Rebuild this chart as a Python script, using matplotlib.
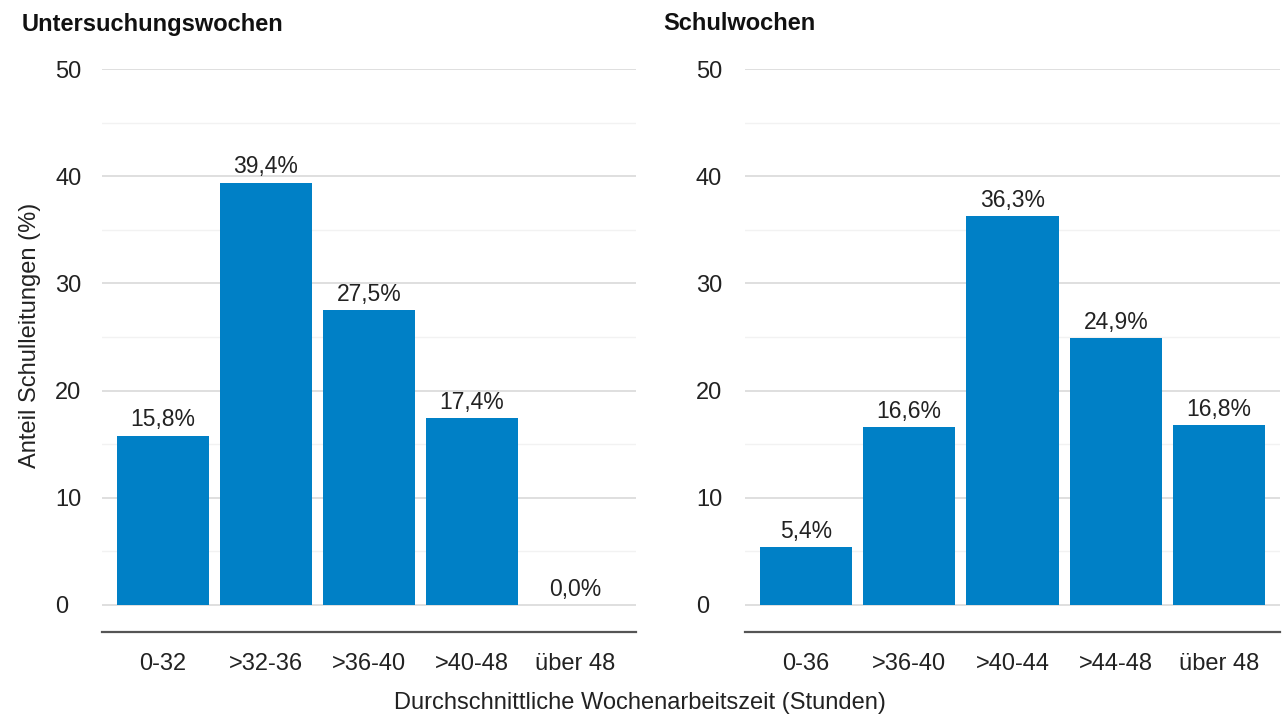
import matplotlib.pyplot as plt
from matplotlib.ticker import MultipleLocator

plt.rcParams['font.family'] = ['Liberation Sans', 'DejaVu Sans']

# --- data ---
cats_left = ["0-32", ">32-36", ">36-40", ">40-48", "über 48"]
vals_left = [15.8, 39.4, 27.5, 17.4, 0.0]
cats_right = ["0-36", ">36-40", ">40-44", ">44-48", "über 48"]
vals_right = [5.4, 16.6, 36.3, 24.9, 16.8]
titles = ["Untersuchungswochen", "Schulwochen"]

bar_color = "#0080c6"
text_color = "#222222"

fig = plt.figure(figsize=(12.82, 7.19), dpi=100)
ax_l = fig.add_axes([102 / 1282, 1 - 631.75 / 719, 534 / 1282, 562.75 / 719])
ax_r = fig.add_axes([745 / 1282, 1 - 631.75 / 719, 535 / 1282, 562.75 / 719])

for ax, cats, vals, pad_px in [(ax_l, cats_left, vals_left, 47),
                               (ax_r, cats_right, vals_right, 49)]:
    x = range(len(cats))
    bars = ax.bar(x, vals, width=0.893, color=bar_color, zorder=3)
    for b, v in zip(bars, vals):
        ax.annotate(f"{v:.1f}%".replace(".", ","), (b.get_x() + b.get_width() / 2, v),
                    xytext=(0, 3), textcoords="offset points", ha="center", va="bottom",
                    fontsize=16.5, color=text_color)
    ax.set_xlim(-0.59, 4.59)
    ax.set_ylim(-2.5, 50)
    ax.set_xticks(list(x))
    ax.set_xticklabels(cats, fontsize=17, color=text_color)
    ax.yaxis.set_minor_locator(MultipleLocator(5))
    ax.set_yticks([0, 10, 20, 30, 40, 50])
    ax.tick_params(axis="y", labelsize=17, labelcolor=text_color, length=0, pad=pad_px * 0.72)
    for lbl in ax.get_yticklabels():
        lbl.set_horizontalalignment("left")
    ax.tick_params(axis="y", which="minor", length=0)
    ax.tick_params(axis="x", length=0, pad=15)
    ax.grid(axis="y", which="major", color="#d9d9d9", linewidth=1.2, zorder=0)
    ax.grid(axis="y", which="minor", color="#f2f2f2", linewidth=1.0, zorder=0)
    for s in ["top", "left", "right"]:
        ax.spines[s].set_visible(False)
    ax.spines["bottom"].set_color("#555555")
    ax.spines["bottom"].set_linewidth(1.6)

fig.text(22 / 1282, 1 - 24 / 719, titles[0], fontsize=17, fontweight="bold",
         color="#111111", ha="left", va="center")
fig.text(663 / 1282, 1 - 24 / 719, titles[1], fontsize=17, fontweight="bold",
         color="#111111", ha="left", va="center")
fig.text(30 / 1282, 1 - 335 / 719, "Anteil Schulleitungen (%)", rotation=90,
         fontsize=17, color=text_color, ha="center", va="center")
fig.text(640 / 1282, 1 - 703 / 719, "Durchschnittliche Wochenarbeitszeit (Stunden)",
         fontsize=17, color=text_color, ha="center", va="center")

fig.savefig("out.png", dpi=100)
